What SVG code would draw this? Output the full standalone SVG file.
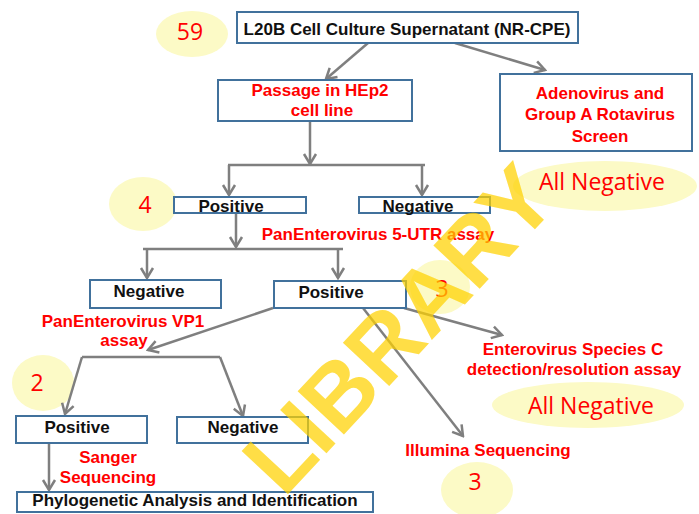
<svg xmlns="http://www.w3.org/2000/svg" width="699" height="514" viewBox="0 0 699 514">
<style>
.box{fill:#fff;stroke:#41719C;stroke-width:2}
.lbl{font-family:"Liberation Sans",Arial,sans-serif;font-weight:bold;font-size:17px;fill:#111;text-anchor:middle}
.red{font-family:"Liberation Sans",Arial,sans-serif;font-weight:bold;font-size:17px;fill:#FF0000;text-anchor:middle}
.num{font-family:"Open Sans","Noto Sans",sans-serif;font-size:23px;fill:#FF0000;text-anchor:middle}
.bub{fill:#FCFAC6}
.con{fill:none;stroke:#7F7F7F;stroke-width:2.5}
.arr{marker-end:url(#ah)}
.wm{font-family:"Liberation Sans",Arial,sans-serif;font-weight:bold;font-size:92px;fill:#FFD200;opacity:0.72;text-anchor:middle}
</style>
<defs>
<marker id="ah" viewBox="-13 -8 15 16" refX="0" refY="0" markerWidth="15" markerHeight="16" markerUnits="userSpaceOnUse" orient="auto">
<path d="M-10,-6 L0,0 L-10,6" fill="none" stroke="#7F7F7F" stroke-width="2.5"/>
</marker>
</defs>
<rect width="699" height="514" fill="#fff"/>

<g id="bubbles">
<ellipse class="bub" cx="192" cy="34" rx="36" ry="23"/>
<ellipse class="bub" cx="143" cy="204" rx="34" ry="27"/>
<ellipse class="bub" cx="43" cy="383" rx="31" ry="28"/>
<ellipse class="bub" cx="440" cy="287" rx="30" ry="27"/>
<ellipse class="bub" cx="605" cy="186" rx="92" ry="25"/>
<ellipse class="bub" cx="588" cy="405" rx="96" ry="23"/>
<ellipse class="bub" cx="477" cy="490" rx="36" ry="28"/>
</g>

<g id="connectors">
<line class="con arr" x1="368" y1="43" x2="326" y2="79"/>
<line class="con arr" x1="455" y1="43" x2="545" y2="70"/>
<line class="con arr" x1="310" y1="121" x2="310" y2="164"/>
<polyline class="con" points="228,165 425,165"/>
<line class="con arr" x1="229" y1="165" x2="229" y2="195"/>
<line class="con arr" x1="422" y1="165" x2="422" y2="195"/>
<line class="con arr" x1="236" y1="213" x2="236" y2="247"/>
<polyline class="con" points="143,249 343,249"/>
<line class="con arr" x1="147" y1="249" x2="147" y2="278"/>
<line class="con arr" x1="338" y1="249" x2="338" y2="278"/>
<line class="con arr" x1="273" y1="308" x2="148" y2="350"/>
<polyline class="con" points="82,357 220,357"/>
<line class="con arr" x1="82" y1="357" x2="65" y2="414"/>
<line class="con arr" x1="220" y1="357" x2="243" y2="416"/>
<line class="con arr" x1="49" y1="443" x2="49" y2="490"/>
<line class="con arr" x1="404" y1="308" x2="502" y2="335"/>
<line class="con arr" x1="363" y1="308" x2="463" y2="436"/>
</g>

<g id="n-top"><rect class="box" x="237" y="12" width="341" height="31"/><text class="lbl" x="407" y="35">L20B Cell Culture Supernatant (NR-CPE)</text></g>
<g id="n-passage"><rect class="box" x="218" y="80" width="194" height="41"/><text class="red" x="320" y="96">Passage in HEp2</text><text class="red" x="322" y="116">cell line</text></g>
<g id="n-adeno"><rect class="box" x="500" y="74" width="192" height="77"/><text class="red" x="600" y="99">Adenovirus and</text><text class="red" x="600" y="120">Group A Rotavirus</text><text class="red" x="600" y="142">Screen</text></g>
<g id="n-pos1"><rect class="box" x="174" y="197" width="132" height="16"/><text class="lbl" x="231" y="212">Positive</text></g>
<g id="n-neg1"><rect class="box" x="359" y="197" width="131" height="16"/><text class="lbl" x="418" y="212">Negative</text></g>
<g id="n-neg2"><rect class="box" x="90" y="280" width="131" height="28"/><text class="lbl" x="149" y="297">Negative</text></g>
<g id="n-pos2"><rect class="box" x="274" y="281" width="132" height="27"/><text class="lbl" x="331" y="298">Positive</text></g>
<g id="n-pos3"><rect class="box" x="16" y="416" width="131" height="27"/><text class="lbl" x="77" y="433">Positive</text></g>
<g id="n-neg3"><rect class="box" x="177" y="417" width="131" height="26"/><text class="lbl" x="243" y="433">Negative</text></g>
<g id="n-phylo"><rect class="box" x="17" y="492" width="356" height="20"/><text class="lbl" x="195" y="506">Phylogenetic Analysis and Identification</text></g>

<g id="labels">
<text class="num" x="190" y="40">59</text>
<text class="num" x="145" y="213">4</text>
<text class="num" x="442" y="297">3</text>
<text class="num" x="37" y="391">2</text>
<text class="num" x="475" y="490">3</text>
<text class="num" x="602" y="190">All Negative</text>
<text class="num" x="591" y="414">All Negative</text>
<text class="red" x="378" y="240">PanEnterovirus 5-UTR assay</text>
<text class="red" x="123" y="327">PanEnterovirus VP1</text>
<text class="red" x="124" y="346">assay</text>
<text class="red" x="108" y="463">Sanger</text>
<text class="red" x="108" y="483">Sequencing</text>
<text class="red" x="573" y="355">Enterovirus Species C</text>
<text class="red" x="574" y="375">detection/resolution assay</text>
<text class="red" x="488" y="456">Illumina Sequencing</text>
</g>

<g id="watermark">
<text class="wm" x="398" y="361" transform="rotate(-47 398 328)">LIBRARY</text>
</g>
</svg>
